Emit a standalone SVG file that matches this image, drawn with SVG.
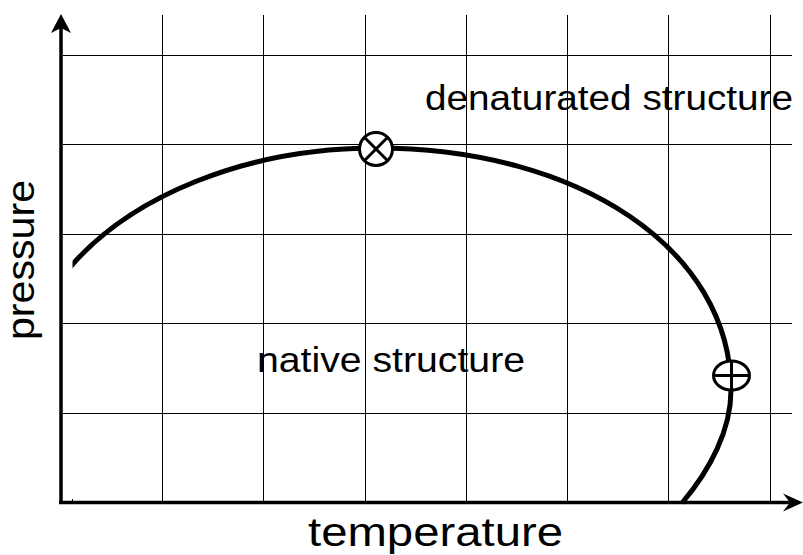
<svg xmlns="http://www.w3.org/2000/svg" width="803" height="555" viewBox="0 0 803 555">
<style>
.grid{stroke:#000;stroke-width:1;fill:none}
.axis{stroke:#000;stroke-width:3.5;fill:none}
.curve{stroke:#000;stroke-width:5;fill:none}
.mark{stroke:#000;stroke-width:3;fill:#fff}
.lbl{font-family:"Liberation Sans",Arial,Helvetica,sans-serif;fill:#000}
</style>
<defs>
<clipPath id="clipL"><rect x="72.5" y="0" width="730" height="555"/></clipPath>
</defs>
<rect width="803" height="555" fill="#fff"/>
<g id="grid" class="grid">
<path d="M162.5 15V502M263.5 15V502M365.5 15V502M466.5 15V502M567.5 15V502M668.5 15V502M770.5 15V502"/>
<path d="M63 55.5H792M63 144.5H792M63 234.5H792M63 323.5H792M63 413.5H792"/>
<path d="M72.5 499V502"/>
</g>
<g id="axes">
<path class="axis" d="M61 504V28"/>
<polygon points="61,14 71,33 61,28 51,33" fill="#000"/>
<path class="axis" d="M59 502.5H790"/>
<polygon points="803,502.5 783,511.5 790,502.5 783,493.5" fill="#000"/>
</g>
<g id="connectors">
<path class="curve" clip-path="url(#clipL)" d="M66 272A355 242 0 0 1 376 148C580 148 731 250 731 390C731 430 710 470 682 503"/>
</g>
<g id="peak">
<circle class="mark" cx="376" cy="149" r="16.5"/>
<path class="mark" d="M364.3 137.3L387.7 160.7M387.7 137.3L364.3 160.7"/>
</g>
<g id="turn">
<ellipse class="mark" cx="731.5" cy="375.5" rx="18" ry="14.5"/>
<path class="mark" d="M713.5 375.5H749.5M731.5 361V390" stroke-width="2.5"/>
</g>
<g id="labels">
<text class="lbl" x="425" y="110" font-size="35" textLength="368" lengthAdjust="spacingAndGlyphs">denaturated structure</text>
<text class="lbl" x="257" y="372" font-size="35" textLength="268" lengthAdjust="spacingAndGlyphs">native structure</text>
<text class="lbl" transform="translate(34 340) rotate(-90)" x="0" y="0" font-size="39" textLength="160" lengthAdjust="spacingAndGlyphs">pressure</text>
<text class="lbl" x="308" y="546" font-size="40" textLength="255" lengthAdjust="spacingAndGlyphs">temperature</text>
</g>
</svg>
